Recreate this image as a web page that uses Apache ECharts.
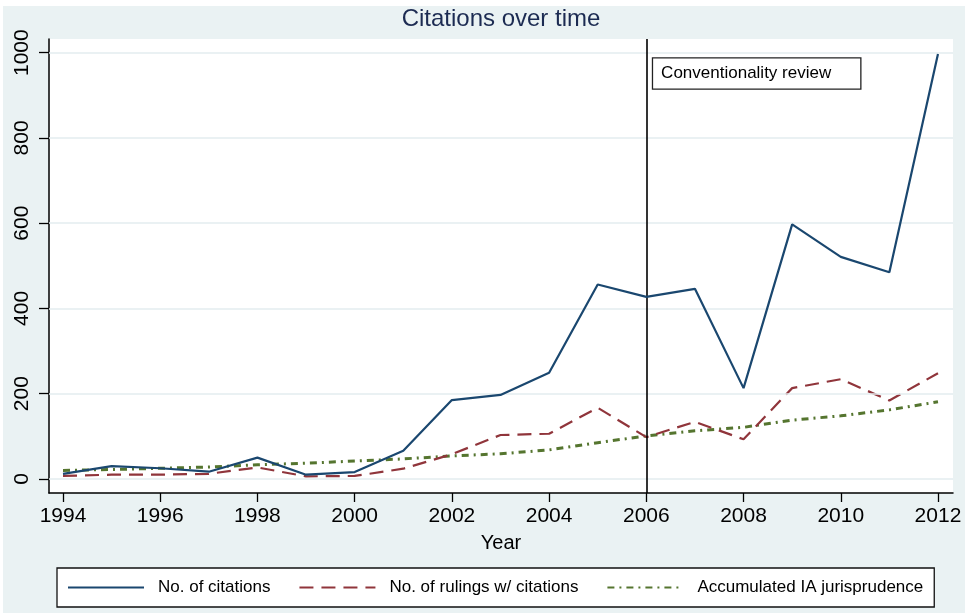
<!DOCTYPE html>
<html>
<head>
<meta charset="utf-8">
<script src="https://cdn.jsdelivr.net/npm/echarts@6/dist/echarts.min.js"></script>
<style>
  html, body { margin: 0; padding: 0; background: #ffffff; }
  #chart { width: 972px; height: 613px; }
</style>
</head>
<body>
<div id="chart"></div>
<script>
const years = [1994, 1995, 1996, 1997, 1998, 1999, 2000, 2001, 2002, 2003, 2004, 2005, 2006, 2007, 2008, 2009, 2010, 2011, 2012];
const citations = [12, 30, 25, 17, 50, 10, 16, 66, 185, 197, 249, 456, 427, 446, 213, 597, 521, 485, 997];
const rulings = [7, 10, 10, 12, 27, 6, 7, 24, 58, 103, 106, 167, 98, 134, 93, 213, 234, 184, 248];
const accumulated = [20, 22, 25, 28, 33, 37, 42, 47, 54, 59, 68, 85, 101, 113, 121, 138, 148, 162, 181];
const xTicks = [1994, 1996, 1998, 2000, 2002, 2004, 2006, 2008, 2010, 2012];
const yTicks = [0, 200, 400, 600, 800, 1000];
const seriesNames = ['No. of citations', 'No. of rulings w/ citations', 'Accumulated IA jurisprudence'];
const eventYear = 2006;
const eventLabel = 'Conventionality review';

const FONT = '"Liberation Sans", Arial, Helvetica, sans-serif';
const pairs = (vals) => years.map((y, i) => [y, vals[i]]);

const chart = echarts.init(document.getElementById('chart'));
chart.setOption({
  animation: false,
  textStyle: { fontFamily: FONT },
  graphic: [{
    type: 'rect', z: -10, silent: true,
    shape: { x: 3, y: 6, width: 962, height: 607 },
    style: { fill: '#eaf2f3' }
  }],
  title: {
    text: 'Citations over time',
    left: 501, top: 7, textAlign: 'center', padding: 0,
    textStyle: { fontFamily: FONT, fontSize: 24, fontWeight: 'normal', color: '#1c2b52' }
  },
  grid: {
    left: 49, right: 19, top: 39, bottom: 120,
    show: true, backgroundColor: '#ffffff', borderWidth: 0
  },
  xAxis: {
    type: 'value', min: 1993.712, max: 2012.309,
    name: 'Year', nameLocation: 'middle', nameGap: 40,
    nameTextStyle: { fontFamily: FONT, fontSize: 20, color: '#000' },
    axisLine: { onZero: false, lineStyle: { color: '#000', width: 1.5 } },
    axisTick: { show: true, length: 9, customValues: xTicks, lineStyle: { color: '#000', width: 1.3 } },
    axisLabel: { customValues: xTicks, fontSize: 21, color: '#000', margin: 13, fontFamily: FONT, formatter: (v) => String(v) },
    splitLine: { show: false }
  },
  yAxis: {
    type: 'value', min: -33, max: 1032,
    axisLine: { onZero: false, lineStyle: { color: '#000', width: 1.5 } },
    axisTick: { show: true, length: 10, customValues: yTicks, lineStyle: { color: '#000', width: 1.3 } },
    axisLabel: { customValues: yTicks, fontSize: 21, color: '#000', rotate: 90, margin: 16, fontFamily: FONT, formatter: (v) => String(v) },
    splitLine: { show: false }
  },
  legend: {
    left: 57, top: 568,
    padding: [11, 11, 11, 10],
    backgroundColor: '#ffffff', borderColor: '#111', borderWidth: 1.3, borderRadius: 0,
    itemWidth: 76, itemHeight: 14, itemGap: 28,
    itemStyle: { color: 'rgba(0,0,0,0)', borderWidth: 0, opacity: 0 },
    textStyle: { fontFamily: FONT, fontSize: 17, color: '#000', padding: [0, 0, 0, 9] },
    data: seriesNames
  },
  series: [
    {
      name: 'grid', type: 'line', data: [], silent: true,
      markLine: {
        silent: true, symbol: 'none', label: { show: false },
        lineStyle: { color: '#e3edef', width: 1.5, type: 'solid' },
        data: yTicks.map(v => ({ yAxis: v }))
      }
    },
    {
      name: seriesNames[0], type: 'line', data: pairs(citations),
      symbol: 'none', z: 5,
      lineStyle: { color: '#1a476f', width: 2.2 }, itemStyle: { color: '#1a476f' },
      markLine: {
        silent: true, symbol: 'none', label: { show: false },
        lineStyle: { color: '#000', width: 1.6, type: 'solid' },
        data: [{ xAxis: eventYear }]
      },
      markPoint: {
        silent: true, symbol: 'circle', symbolSize: 0,
        data: [{ coord: [2006.14, 951] }],
        label: {
          show: true, position: 'right', distance: 0,
          formatter: eventLabel, fontFamily: FONT, fontSize: 17, color: '#000',
          backgroundColor: '#ffffff', borderColor: '#222', borderWidth: 1.3,
          padding: [7, 29, 6, 8]
        }
      }
    },
    {
      name: seriesNames[1], type: 'line', data: pairs(rulings),
      symbol: 'none', z: 4,
      lineStyle: { color: '#90353b', width: 2.2, type: [14, 8] }, itemStyle: { color: '#90353b' }
    },
    {
      name: seriesNames[2], type: 'line', data: pairs(accumulated),
      symbol: 'none', z: 3,
      lineStyle: { color: '#55752f', width: 3, type: [7, 5, 2, 5] }, itemStyle: { color: '#55752f' }
    }
  ]
});
</script>
</body>
</html>
